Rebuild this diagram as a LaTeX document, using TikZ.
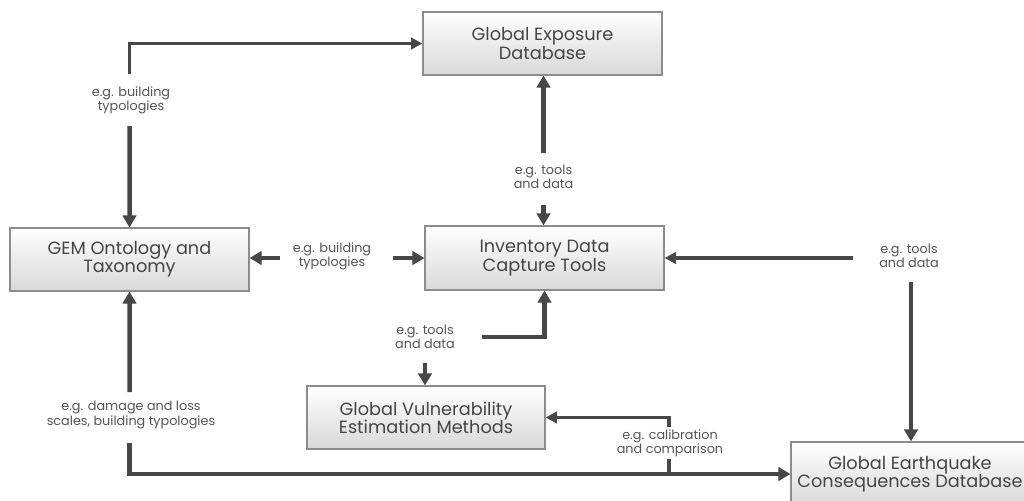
\documentclass[tikz,border=0pt]{standalone}
\usepackage{fontspec}
\setmainfont{Poppins}
\usetikzlibrary{arrows.meta,calc}
\definecolor{arrgray}{HTML}{474747}
\definecolor{txtgray}{HTML}{454545}
\definecolor{lblgray}{HTML}{555555}
\definecolor{boxline}{HTML}{8C8C8C}
\tikzset{
  box/.style={draw=boxline, line width=0.8pt, top color=white, bottom color=black!15,
    text=txtgray, align=center, minimum width=5.975cm, minimum height=1.575cm,
    font=\fontsize{12.6pt}{13pt}\selectfont},
  lbl/.style={text=lblgray, align=center, inner sep=0pt,
    font=\fontsize{9.1pt}{10pt}\selectfont},
  arr/.style={draw=arrgray, line width=3.2pt, -{Triangle[length=8.5pt,width=9.5pt]}},
  arrthin/.style={draw=arrgray, line width=2.4pt, -{Triangle[length=8pt,width=8pt]}},
  plain/.style={draw=arrgray, line width=2.6pt}
}
\begin{document}
\begin{tikzpicture}[x=0.025cm, y=-0.025cm]
\useasboundingbox (0,0) rectangle (1024,500);
\clip (0,0) rectangle (1024,500);
\fill[white] (0,0) rectangle (1024,500);
% boxes
\node[box] (exp) at (542.5,43.5) {Global Exposure\\Database};
\node[box] (gem) at (129.5,259.5) {GEM Ontology and\\Taxonomy};
\node[box, minimum height=1.6cm] (inv) at (544.5,258) {Inventory Data\\Capture Tools};
\node[box, minimum width=5.95cm] (vul) at (426,417.5) {Global Vulnerability\\Estimation Methods};
\node[box, minimum width=5.95cm, minimum height=1.6cm] (geq) at (910,474) {Global Earthquake\\Consequences Database};
% labels
\node[lbl] (l1) at (131,100) {e.g. building\\typologies};
\node[lbl] (l2) at (543.5,177) {e.g. tools\\and data};
\node[lbl] (l3) at (332,256) {e.g. building\\typologies};
\node[lbl] (l4) at (909,256) {e.g. tools\\and data};
\node[lbl] (l5) at (425,337) {e.g. tools\\and data};
\node[lbl] (l6) at (131,415) {e.g. damage and loss\\scales, building typologies};
\node[lbl] (l7) at (670,443) {e.g. calibration\\and comparison};
\coordinate (j) at (669,474);
% connectors
\draw[arrthin] ($(l1)+(-1.5,-26)$) |- (exp.west);
\draw[arr] ($(l1)+(-1.5,26)$) -- (gem.north);
\draw[arr] ($(l2)+(0,-24)$) -- (l2 |- exp.south);
\draw[arr] ($(l2)+(0,28)$) -- (l2 |- inv.north);
\draw[arr] ($(l3)+(-52,2)$) -- ($(l3 -| gem.east)+(0,2)$);
\draw[arr] ($(l3)+(61,2)$) -- ($(l3 -| inv.west)+(0,2)$);
\draw[arrthin] ($(l4)+(-56,2)$) -- ($(l4 -| inv.east)+(0,2)$);
\draw[arr] ($(l4)+(2,26)$) -- ($(l4 |- geq.north)+(2,0)$);
\draw[arr] ($(l5)+(0,26)$) -- (l5 |- vul.north);
\draw[arr] ($(l5)+(57,0)$) -| (inv.south);
\draw[arr] ($(l6)+(-1.5,-23)$) -- (gem.south);
\draw[arr] ($(l6)+(-1.5,28)$) |- (geq.west);
\draw[arrthin] ($(l7)+(-1,-16)$) |- (vul.east);
\draw[plain] ($(l7)+(-1,16)$) -- (j);
\end{tikzpicture}
\end{document}
